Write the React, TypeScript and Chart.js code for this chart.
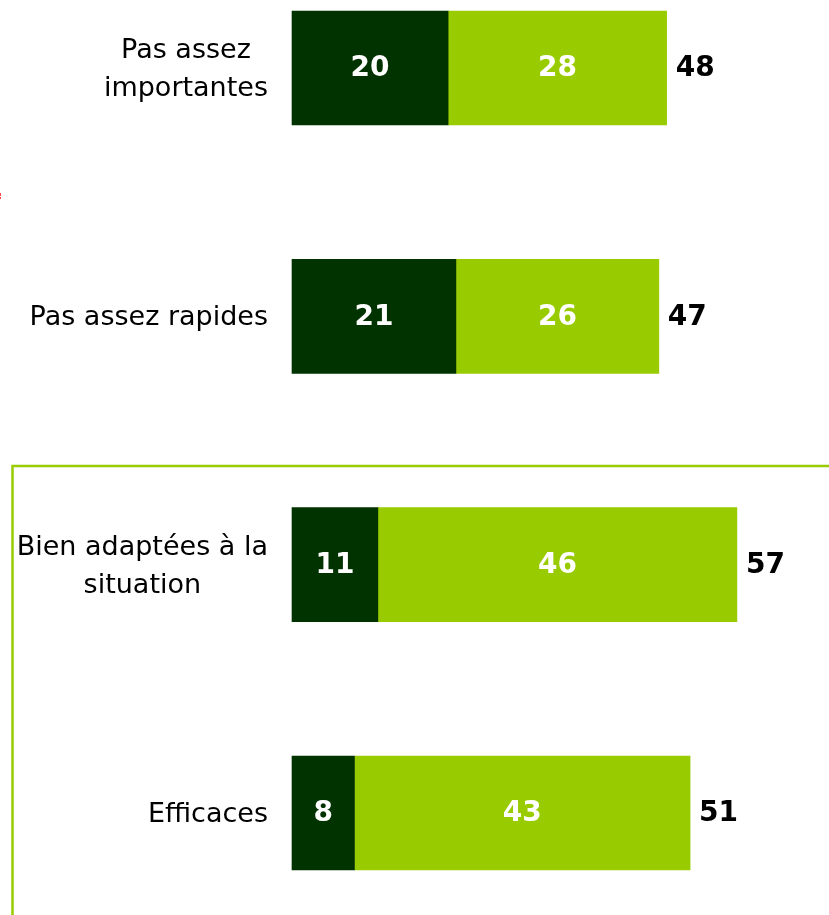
import React, { useEffect, useRef } from "react";
import { Chart, registerables } from "chart.js";

Chart.register(...registerables);

const categories: string[][] = [
  ["Pas assez", "importantes"],
  ["Pas assez rapides"],
  ["Bien adaptées à la", "situation"],
  ["Efficaces"],
];
const darkValues = [20, 21, 11, 8];
const lightValues = [28, 26, 46, 43];
const totals = [48, 47, 57, 51];

const DARK = "#003300";
const LIGHT = "#99CC00";

const overlayPlugin = {
  id: "overlay",
  beforeDatasetsDraw(chart: any) {
    const ctx = chart.ctx;
    ctx.save();
    ctx.strokeStyle = LIGHT;
    ctx.lineWidth = 2.5;
    ctx.beginPath();
    ctx.moveTo(12.5, 930);
    ctx.lineTo(12.5, 466);
    ctx.lineTo(840, 466);
    ctx.stroke();
    ctx.fillStyle = "#ff4444";
    ctx.fillRect(0, 193, 1, 3);
    ctx.fillRect(0, 197, 1, 2);
    ctx.restore();
  },
  afterDatasetsDraw(chart: any) {
    const ctx = chart.ctx;
    const yScale = chart.scales.y;
    const xScale = chart.scales.x;
    ctx.save();
    ctx.font = "27px 'DejaVu Sans'";
    ctx.fillStyle = "#000000";
    ctx.textAlign = "center";
    ctx.textBaseline = "middle";
    const lineH = 38;
    categories.forEach((lines, i) => {
      const yc = yScale.getPixelForValue(i) + 2;
      const w = Math.max(...lines.map((l) => ctx.measureText(l).width));
      const cx = 268 - w / 2;
      const y0 = yc - ((lines.length - 1) * lineH) / 2;
      lines.forEach((l, j) => ctx.fillText(l, cx, y0 + j * lineH));
    });
    ctx.font = "bold 28px 'DejaVu Sans'";
    ctx.fillStyle = "#ffffff";
    chart.data.datasets.forEach((ds: any, di: number) => {
      const meta = chart.getDatasetMeta(di);
      meta.data.forEach((bar: any, i: number) => {
        const cx = (bar.x + bar.base) / 2;
        ctx.fillText(String(ds.data[i]), cx, bar.y + 1);
      });
    });
    ctx.fillStyle = "#000000";
    ctx.textAlign = "left";
    totals.forEach((t, i) => {
      const x = xScale.getPixelForValue(t) + 9;
      const y = yScale.getPixelForValue(i);
      ctx.fillText(String(t), x, y + 1);
    });
    ctx.restore();
  },
};

export default function App() {
  const ref = useRef<HTMLCanvasElement | null>(null);
  useEffect(() => {
    document.body.style.margin = "0";
    document.body.style.overflow = "hidden";
    const canvas = ref.current;
    if (!canvas) return;
    const chart = new Chart(canvas, {
      type: "bar",
      data: {
        labels: categories.map((c) => c.join(" ")),
        datasets: [
          {
            data: darkValues,
            backgroundColor: DARK,
            barThickness: 114,
            clip: false as any,
          },
          {
            data: lightValues,
            backgroundColor: LIGHT,
            barThickness: 114,
            clip: false as any,
          },
        ],
      },
      options: {
        indexAxis: "y",
        responsive: false,
        animation: false,
        devicePixelRatio: 1,
        layout: { padding: { left: 292, right: 0, top: 68, bottom: 102 } },
        plugins: {
          legend: { display: false },
          tooltip: { enabled: false },
        },
        scales: {
          x: {
            stacked: true,
            display: false,
            min: 0,
            max: 68.8,
          },
          y: {
            stacked: true,
            display: false,
            offset: false,
          },
        },
      },
      plugins: [overlayPlugin],
    });
    return () => chart.destroy();
  }, []);
  return (
    <div style={{ width: 829, height: 915, overflow: "hidden", background: "#ffffff" }}>
      <canvas ref={ref} width={829} height={915} style={{ display: "block" }} />
    </div>
  );
}
